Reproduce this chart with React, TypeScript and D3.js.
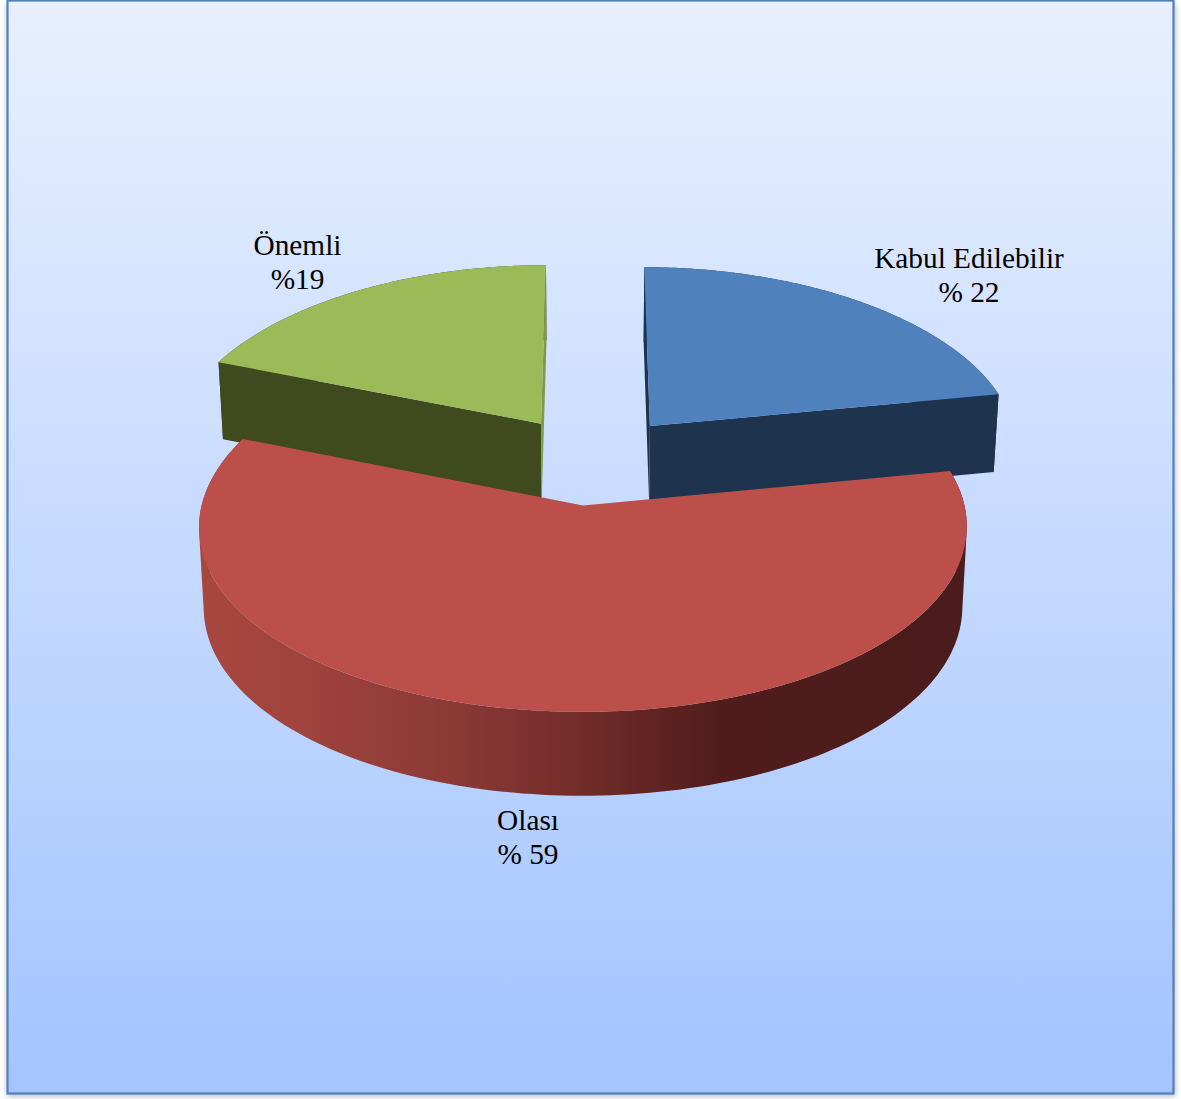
import React from "react";
import * as d3 from "d3";

// Risk class shares, clockwise from twelve o'clock
const categories = ["Kabul Edilebilir", "Olası", "Önemli"];
const shares = [22, 59, 19];
const shareLabels = ["% 22", "% 59", "%19"];

const topColors = ["#4f81bd", "#bd4f4b", "#9bbb59"];
const cutFaceColors = ["#1e334e", "#4c1c1b", "#3f4a1f"];
const startFaceColors = ["#1e334e", "#4c1c1b", "#3f4a1f"];
const endFaceColors = ["#1e334e", "#4c1c1b", "#7f9a45"];

const wallStops = [
  [0, "#a8473f"],
  [0.13, "#a0433e"],
  [0.3, "#8f3b37"],
  [0.45, "#7a302d"],
  [0.55, "#682825"],
  [0.68, "#501c1b"],
  [1, "#4a1c1b"],
];

const labelAnchors = [
  [969, 268],
  [528, 830],
  [297.5, 255],
];

const WIDTH = 1181;
const HEIGHT = 1099;
const CENTER_X = 592;
const CENTER_Y = 460;
const EXPLODE = 0.25;
const PERSPECTIVE_X = 0.11;
const PERSPECTIVE_Y = 0.09;
const THICKNESS = 79;
const BOTTOM_SHRINK = 0.988;

const xScale = d3.scaleLinear().domain([-1, 1]).range([CENTER_X - 371, CENTER_X + 371]);
const yScale = d3.scaleLinear().domain([-1, 1]).range([CENTER_Y + 179, CENTER_Y - 179]);

type Pt = [number, number];

// Disc coordinates (x right, y away from the viewer) to the screen, top or bottom plane
function project(X: number, Y: number, lower = false): Pt {
  const wy = 1 + PERSPECTIVE_Y * Y;
  const sx = xScale(X / (1 + PERSPECTIVE_X * Y));
  const sy = yScale(Y / wy);
  if (!lower) return [sx, sy];
  return [CENTER_X + (sx - CENTER_X) * BOTTOM_SHRINK, sy + THICKNESS / Math.sqrt(wy)];
}

const pieLayout = d3
  .pie<number>()
  .sort(null)
  .startAngle(0)
  .endAngle(2 * Math.PI);

const line = d3.line<Pt>();
const STEPS = 160;

function slicePaths(start: number, end: number) {
  const mid = (start + end) / 2;
  const ox = EXPLODE * Math.sin(mid);
  const oy = EXPLODE * Math.cos(mid);
  const rim = (lower: boolean) =>
    d3.range(0, STEPS + 1).map((i) => {
      const t = start + ((end - start) * i) / STEPS;
      return project(ox + Math.sin(t), oy + Math.cos(t), lower);
    });
  const apexTop = project(ox, oy);
  const apexBottom = project(ox, oy, true);
  const top = rim(false);
  const bottom = rim(true);
  const closed = (p: Pt[]) => line(p) + "Z";
  // One quad per rim step, all wound alike, so their union keeps straight tangent edges
  const wallQuads = d3.range(0, STEPS).map((i) => {
    const quad: Pt[] = [top[i], top[i + 1], bottom[i + 1], bottom[i]];
    return closed(d3.polygonArea(quad) < 0 ? quad.reverse() : quad);
  });
  return {
    top: closed([apexTop, ...top]),
    wall: wallQuads.join(""),
    startFace: closed([apexTop, top[0], bottom[0], apexBottom]),
    endFace: closed([apexTop, top[STEPS], bottom[STEPS], apexBottom]),
  };
}

export default function App() {
  const arcs = pieLayout(shares);
  const slices = arcs.map((a) => slicePaths(a.startAngle, a.endAngle));
  // The large front slice sits on top of the two rear ones
  const drawOrder = [2, 0, 1];
  return (
    <svg
      width={WIDTH}
      height={HEIGHT}
      style={{ position: "absolute", left: 0, top: 0, display: "block" }}
    >
      <defs>
        <linearGradient id="panelFill" x1="0" y1="0" x2="0" y2="1">
          <stop offset="0" stopColor="#e8f0ff" />
          <stop offset="1" stopColor="#a3c4ff" />
        </linearGradient>
        <linearGradient id="wallFill" gradientUnits="userSpaceOnUse" x1={200} y1={0} x2={966} y2={0}>
          {wallStops.map(([o, c]) => (
            <stop key={o as number} offset={o as number} stopColor={c as string} />
          ))}
        </linearGradient>
        <filter id="panelShadow" x="-3%" y="-3%" width="106%" height="106%">
          <feGaussianBlur stdDeviation="3" />
        </filter>
      </defs>

      <rect x={7} y={3} width={1168} height={1093} fill="#000" opacity={0.3} filter="url(#panelShadow)" />
      <rect x={7.5} y={0.5} width={1166} height={1093} fill="url(#panelFill)" stroke="#4f81bd" strokeWidth={2.2} />

      {drawOrder.map((i) => (
        <g key={categories[i]}>
          <path d={slices[i].wall} fill={i === 1 ? "url(#wallFill)" : cutFaceColors[i]} />
          {i !== 1 && (
            <>
              <path d={slices[i].startFace} fill={startFaceColors[i]} />
              <path d={slices[i].endFace} fill={endFaceColors[i]} />
            </>
          )}
          <path d={slices[i].top} fill={topColors[i]} />
        </g>
      ))}

      <g fontFamily="'Liberation Serif', serif" fontSize={29.3} fill="#000" textAnchor="middle">
        {categories.map((c, i) => (
          <g key={c}>
            <text x={labelAnchors[i][0]} y={labelAnchors[i][1]}>{c}</text>
            <text x={labelAnchors[i][0]} y={labelAnchors[i][1] + 34}>{shareLabels[i]}</text>
          </g>
        ))}
      </g>
    </svg>
  );
}
